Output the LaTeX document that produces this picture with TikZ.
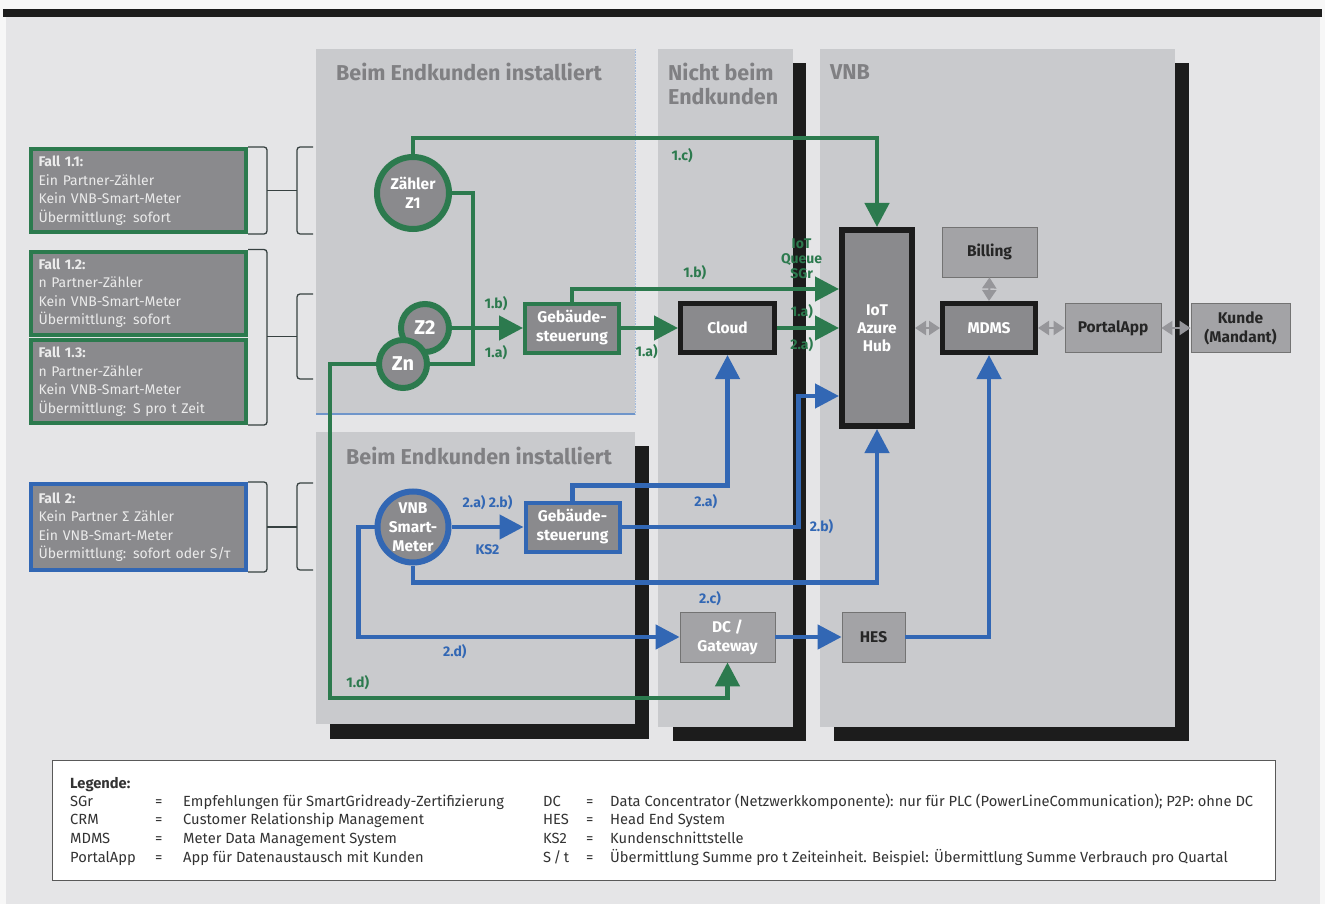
\documentclass[tikz,border=0pt]{standalone}
\usepackage{fontspec}
\setmainfont{Fira Sans}
\usetikzlibrary{arrows.meta}

\definecolor{bggray}{RGB}{229,229,231}
\definecolor{panelgray}{RGB}{201,202,205}
\definecolor{nodegray}{RGB}{138,138,141}
\definecolor{boxgray}{RGB}{163,163,166}
\definecolor{titlegray}{RGB}{128,128,131}
\definecolor{darkline}{RGB}{28,28,28}
\definecolor{flowgreen}{RGB}{44,122,78}
\definecolor{flowblue}{RGB}{50,103,180}
\definecolor{linkgray}{RGB}{150,150,154}
\definecolor{bracegray}{RGB}{55,65,65}

\newcommand{\pxfont}[2]{\fontsize{#1}{#2}\selectfont}

\begin{document}
\begin{tikzpicture}[
    x=1pt, y=-1pt,
    panel/.style={fill=panelgray},
    shadowbar/.style={fill=darkline},
    paneltitle/.style={
        anchor=west,
        text=titlegray,
        align=left,
        inner sep=0pt,
        font=\bfseries\pxfont{21.5}{24}
    },
    fallbox/.style={
        draw,
        line width=4pt,
        fill=nodegray,
        text=white!92!black,
        align=left,
        text width=200pt,
        minimum width=215pt,
        minimum height=83pt,
        inner sep=4pt,
        font=\pxfont{14}{18.5}
    },
    meter/.style={
        circle,
        draw,
        line width=6pt,
        fill=nodegray,
        inner sep=0pt
    },
    metertext/.style={
        text=white,
        align=center,
        inner sep=0pt,
        font=\bfseries\pxfont{15.5}{19}
    },
    gbox/.style={
        draw,
        line width=4pt,
        fill=nodegray,
        text=white,
        align=center,
        minimum width=94pt,
        minimum height=49pt,
        inner sep=0pt,
        font=\bfseries\pxfont{15.5}{19}
    },
    kbox/.style={
        draw=darkline,
        line width=5pt,
        fill=nodegray,
        text=white,
        align=center,
        inner sep=0pt,
        font=\bfseries\pxfont{15.5}{18}
    },
    pbox/.style={
        draw=black!55,
        line width=0.8pt,
        fill=boxgray,
        text=black!85,
        align=center,
        inner sep=0pt,
        font=\bfseries\pxfont{15.5}{19}
    },
    flow/.style={line width=4.5pt, -{Triangle[length=24pt,width=24pt]}},
    gflow/.style={flow, draw=flowgreen},
    bflow/.style={flow, draw=flowblue},
    gline/.style={line width=4.5pt, draw=flowgreen},
    glabel/.style={text=flowgreen, inner sep=0pt, font=\bfseries\pxfont{14}{15}},
    blabel/.style={text=flowblue, inner sep=0pt, font=\bfseries\pxfont{14}{15}},
    link/.style={draw=linkgray, line width=2pt,
        {Triangle[length=11pt,width=14pt]}-{Triangle[length=11pt,width=14pt]}},
    caseline/.style={draw=bracegray, line width=1.3pt, rounded corners=3pt},
    legbox/.style={draw=black!65, line width=1pt, fill=white},
    legtext/.style={anchor=base west, inner sep=0pt, text=black!80, font=\pxfont{14.7}{17}}
]

% ---------------------------------------------------------------------------
% Background and panels
% ---------------------------------------------------------------------------
\useasboundingbox (0,0) rectangle (1325,904);
\fill[white!97!black] (0,0) rectangle (1325,904);
\fill[bggray] (6,17) rectangle (1320,904);
\fill[darkline] (3,9) rectangle (1322,17);

\fill[shadowbar] (793,63) rectangle (806,741);
\fill[shadowbar] (673,727) rectangle (806,741);
\fill[shadowbar] (1175,63) rectangle (1189,741);
\fill[shadowbar] (834,727) rectangle (1189,741);
\fill[shadowbar] (635,446) rectangle (649,739);
\fill[shadowbar] (330,724) rectangle (649,739);

\fill[panel] (316,49) rectangle (635,414);
\fill[panel] (316,432) rectangle (635,724);
\fill[panel] (658,49) rectangle (793,727);
\fill[panel] (820,49) rectangle (1175,727);
\draw[flowblue!70, line width=1.5pt] (316,414) -- (635,414);
\draw[flowblue!45, densely dotted, line width=0.6pt] (635,49) -- (635,414);

\node[paneltitle] (titleA) at (336,72) {Beim Endkunden installiert};
\node[paneltitle] (titleB) at (668,84) {Nicht beim\\Endkunden};
\node[paneltitle] (titleC) at (830,72) {VNB};
\node[paneltitle] (titleD) at (346,456) {Beim Endkunden installiert};

% ---------------------------------------------------------------------------
% Cases
% ---------------------------------------------------------------------------
\node[fallbox, draw=flowgreen] (f11) at (138.5,190.5)
    {\textbf{Fall 1.1:}\\Ein Partner-Zähler\\Kein VNB-Smart-Meter\\Übermittlung: sofort};
\node[fallbox, draw=flowgreen] (f12) at (138.5,293)
    {\textbf{Fall 1.2:}\\n Partner-Zähler\\Kein VNB-Smart-Meter\\Übermittlung: sofort};
\node[fallbox, draw=flowgreen] (f13) at (138.5,381.5)
    {\textbf{Fall 1.3:}\\n Partner-Zähler\\Kein VNB-Smart-Meter\\Übermittlung: S pro t Zeit};
\node[fallbox, draw=flowblue, minimum height=86pt] (f2) at (138.5,527)
    {\textbf{Fall 2:}\\Kein Partner Σ Zähler\\Ein VNB-Smart-Meter\\Übermittlung: sofort oder S/τ};

% brackets
\draw[caseline] (f11.north east) -- ++(19,0) |- (f11.south east);
\draw[caseline] ([xshift=19pt]f11.east) -- ++(30,0);
\draw[caseline] (313,147) -- (297,147) -- (297,234) -- (313,234);

\draw[caseline] (f12.north east) -- ++(19,0) |- (f13.south east);
\draw[caseline] ([xshift=19pt]f12.south east) -- ++(30,0);
\draw[caseline] (313,294) -- (297,294) -- (297,379) -- (313,379);

\draw[caseline] (f2.north east) -- ++(19,0) |- (f2.south east);
\draw[caseline] ([xshift=19pt]f2.east) -- ++(30,0);
\draw[caseline] (313,483) -- (297,483) -- (297,570) -- (313,570);

% ---------------------------------------------------------------------------
% Meters and building control
% ---------------------------------------------------------------------------
\node[meter, draw=flowgreen, minimum size=72pt,
    label={[metertext]center:Zähler\\Z1}] (z1) at (413,193) {};
\node[meter, draw=flowgreen, minimum size=48pt,
    label={[metertext, font=\bfseries\pxfont{20}{22}]center:Z2}] (z2) at (425,328) {};
\node[meter, draw=flowgreen, minimum size=48pt,
    label={[metertext, font=\bfseries\pxfont{20}{22}]center:Zn}] (zn) at (403,364) {};
\node[meter, draw=flowblue, minimum size=71pt,
    label={[metertext]center:VNB\\Smart-\\Meter}] (sm) at (413,527) {};

\node[gbox, draw=flowgreen] (geb1) at (572,328) {Gebäude-\\steuerung};
\node[gbox, draw=flowblue] (geb2) at (572.5,527) {Gebäude-\\steuerung};

% ---------------------------------------------------------------------------
% Cloud, hub and VNB systems
% ---------------------------------------------------------------------------
\node[kbox, minimum width=94pt, minimum height=49pt] (cloud) at (727.5,328) {Cloud};
\node[kbox, line width=6pt, minimum width=70pt, minimum height=196pt] (hub) at (877,328) {IoT\\Azure\\Hub};
\node[kbox, minimum width=93pt, minimum height=49pt] (mdms) at (989,328) {MDMS};

\node[pbox, minimum width=95pt, minimum height=50pt] (billing) at (989.5,252) {Billing};
\node[pbox, minimum width=96pt, minimum height=49pt] (portal) at (1113,328) {PortalApp};
\node[pbox, minimum width=99pt, minimum height=49pt] (kunde) at (1240.5,328) {Kunde\\(Mandant)};
\node[pbox, text=white, minimum width=95pt, minimum height=50pt] (dc) at (727.5,637) {DC /\\Gateway};
\node[pbox, minimum width=63pt, minimum height=50pt] (hes) at (873.5,637) {HES};

% ---------------------------------------------------------------------------
% Green flows (Fall 1)
% ---------------------------------------------------------------------------
\coordinate (bus) at (473,364);
\coordinate (dturn) at (330,698);

\draw[gflow] (z1.north) -- ++(0,-16) -| node[glabel, pos=0.29, below=8pt] {1.c)} (hub.north);
\draw[gline] (z1.east) -| (bus) -- (zn.east);
\draw[gflow] (z2.east) -- node[glabel, pos=0.62, above=15pt] {1.b)} node[glabel, pos=0.62, below=15pt] {1.a)} (geb1.west);
\draw[gflow] (geb1.east) -- node[glabel, pos=0.45, below=14pt] {1.a)} (cloud.west);
\draw[gflow] (geb1.north) |- node[glabel, pos=0.73, above=7pt] {1.b)}
    node[glabel, pos=0.93, above=8pt, align=center] {IoT\\Queue\\SGr} ([yshift=39pt]hub.west);
\draw[gflow] (cloud.east) -- node[glabel, pos=0.4, above=7pt] {1.a)} node[glabel, pos=0.4, below=7pt] {2.a)} (hub.west);
\draw[gflow] (zn.west) -| (dturn) -| node[glabel, pos=0.035, above=6pt] {1.d)} (dc.south);

% ---------------------------------------------------------------------------
% Blue flows (Fall 2)
% ---------------------------------------------------------------------------
\draw[bflow] (sm.east) -- node[blabel, above=15pt] {2.a) 2.b)} node[blabel, below=15pt] {KS2} (geb2.west);
\draw[bflow] (geb2.north) -- ++(0,-15) -| node[blabel, pos=0.43, below=7pt] {2.a)} (cloud.south);
\draw[bflow] (geb2.east) -- ++(177,0) node[blabel, right=9pt] {2.b)} |- ([yshift=-68pt]hub.west);
\draw[bflow] (sm.south) -- ++(0,17) -| node[blabel, pos=0.32, below=7pt] {2.c)} (hub.south);
\draw[bflow] (sm.west) -- ++(-16,0) |- node[blabel, pos=0.65, below=5pt] {2.d)} (dc.west);
\draw[bflow] (dc.east) -- (hes.west);
\draw[bflow] (hes.east) -| (mdms.south);

% ---------------------------------------------------------------------------
% Data exchange
% ---------------------------------------------------------------------------
\draw[link] (hub.east) -- (mdms.west);
\draw[link] (mdms.east) -- (portal.west);
\draw[link] (portal.east) -- (kunde.west);
\draw[link] (billing.south) -- (mdms.north);

% ---------------------------------------------------------------------------
% Legend
% ---------------------------------------------------------------------------
\node[legbox, minimum width=1223pt, minimum height=120pt] (legend) at (663.5,820) {};
\node[legtext, font=\bfseries\pxfont{14.7}{17}] (legtitle) at (70,788) {Legende:};
\foreach \ab/\df [count=\i] in {
    SGr/Empfehlungen für SmartGridready-Zertifizierung,
    CRM/Customer Relationship Management,
    MDMS/Meter Data Management System,
    PortalApp/App für Datenaustausch mit Kunden}
{
    \node[legtext] (la\i) at (70,{806+18.7*(\i-1)}) {\ab};
    \node[legtext] (le\i) at (155,{806+18.7*(\i-1)}) {=};
    \node[legtext] (ld\i) at (183,{806+18.7*(\i-1)}) {\df};
}
\foreach \ab/\df [count=\i] in {
    DC/Data Concentrator (Netzwerkkomponente): nur für PLC (PowerLineCommunication); P2P: ohne DC,
    HES/Head End System,
    KS2/Kundenschnittstelle,
    {S\,/\,t}/Übermittlung Summe pro t Zeiteinheit. Beispiel: Übermittlung Summe Verbrauch pro Quartal}
{
    \node[legtext] (lb\i) at (543,{806+18.7*(\i-1)}) {\ab};
    \node[legtext] (lf\i) at (586,{806+18.7*(\i-1)}) {=};
    \node[legtext] (lg\i) at (610,{806+18.7*(\i-1)}) {\df};
}

\end{tikzpicture}
\end{document}
